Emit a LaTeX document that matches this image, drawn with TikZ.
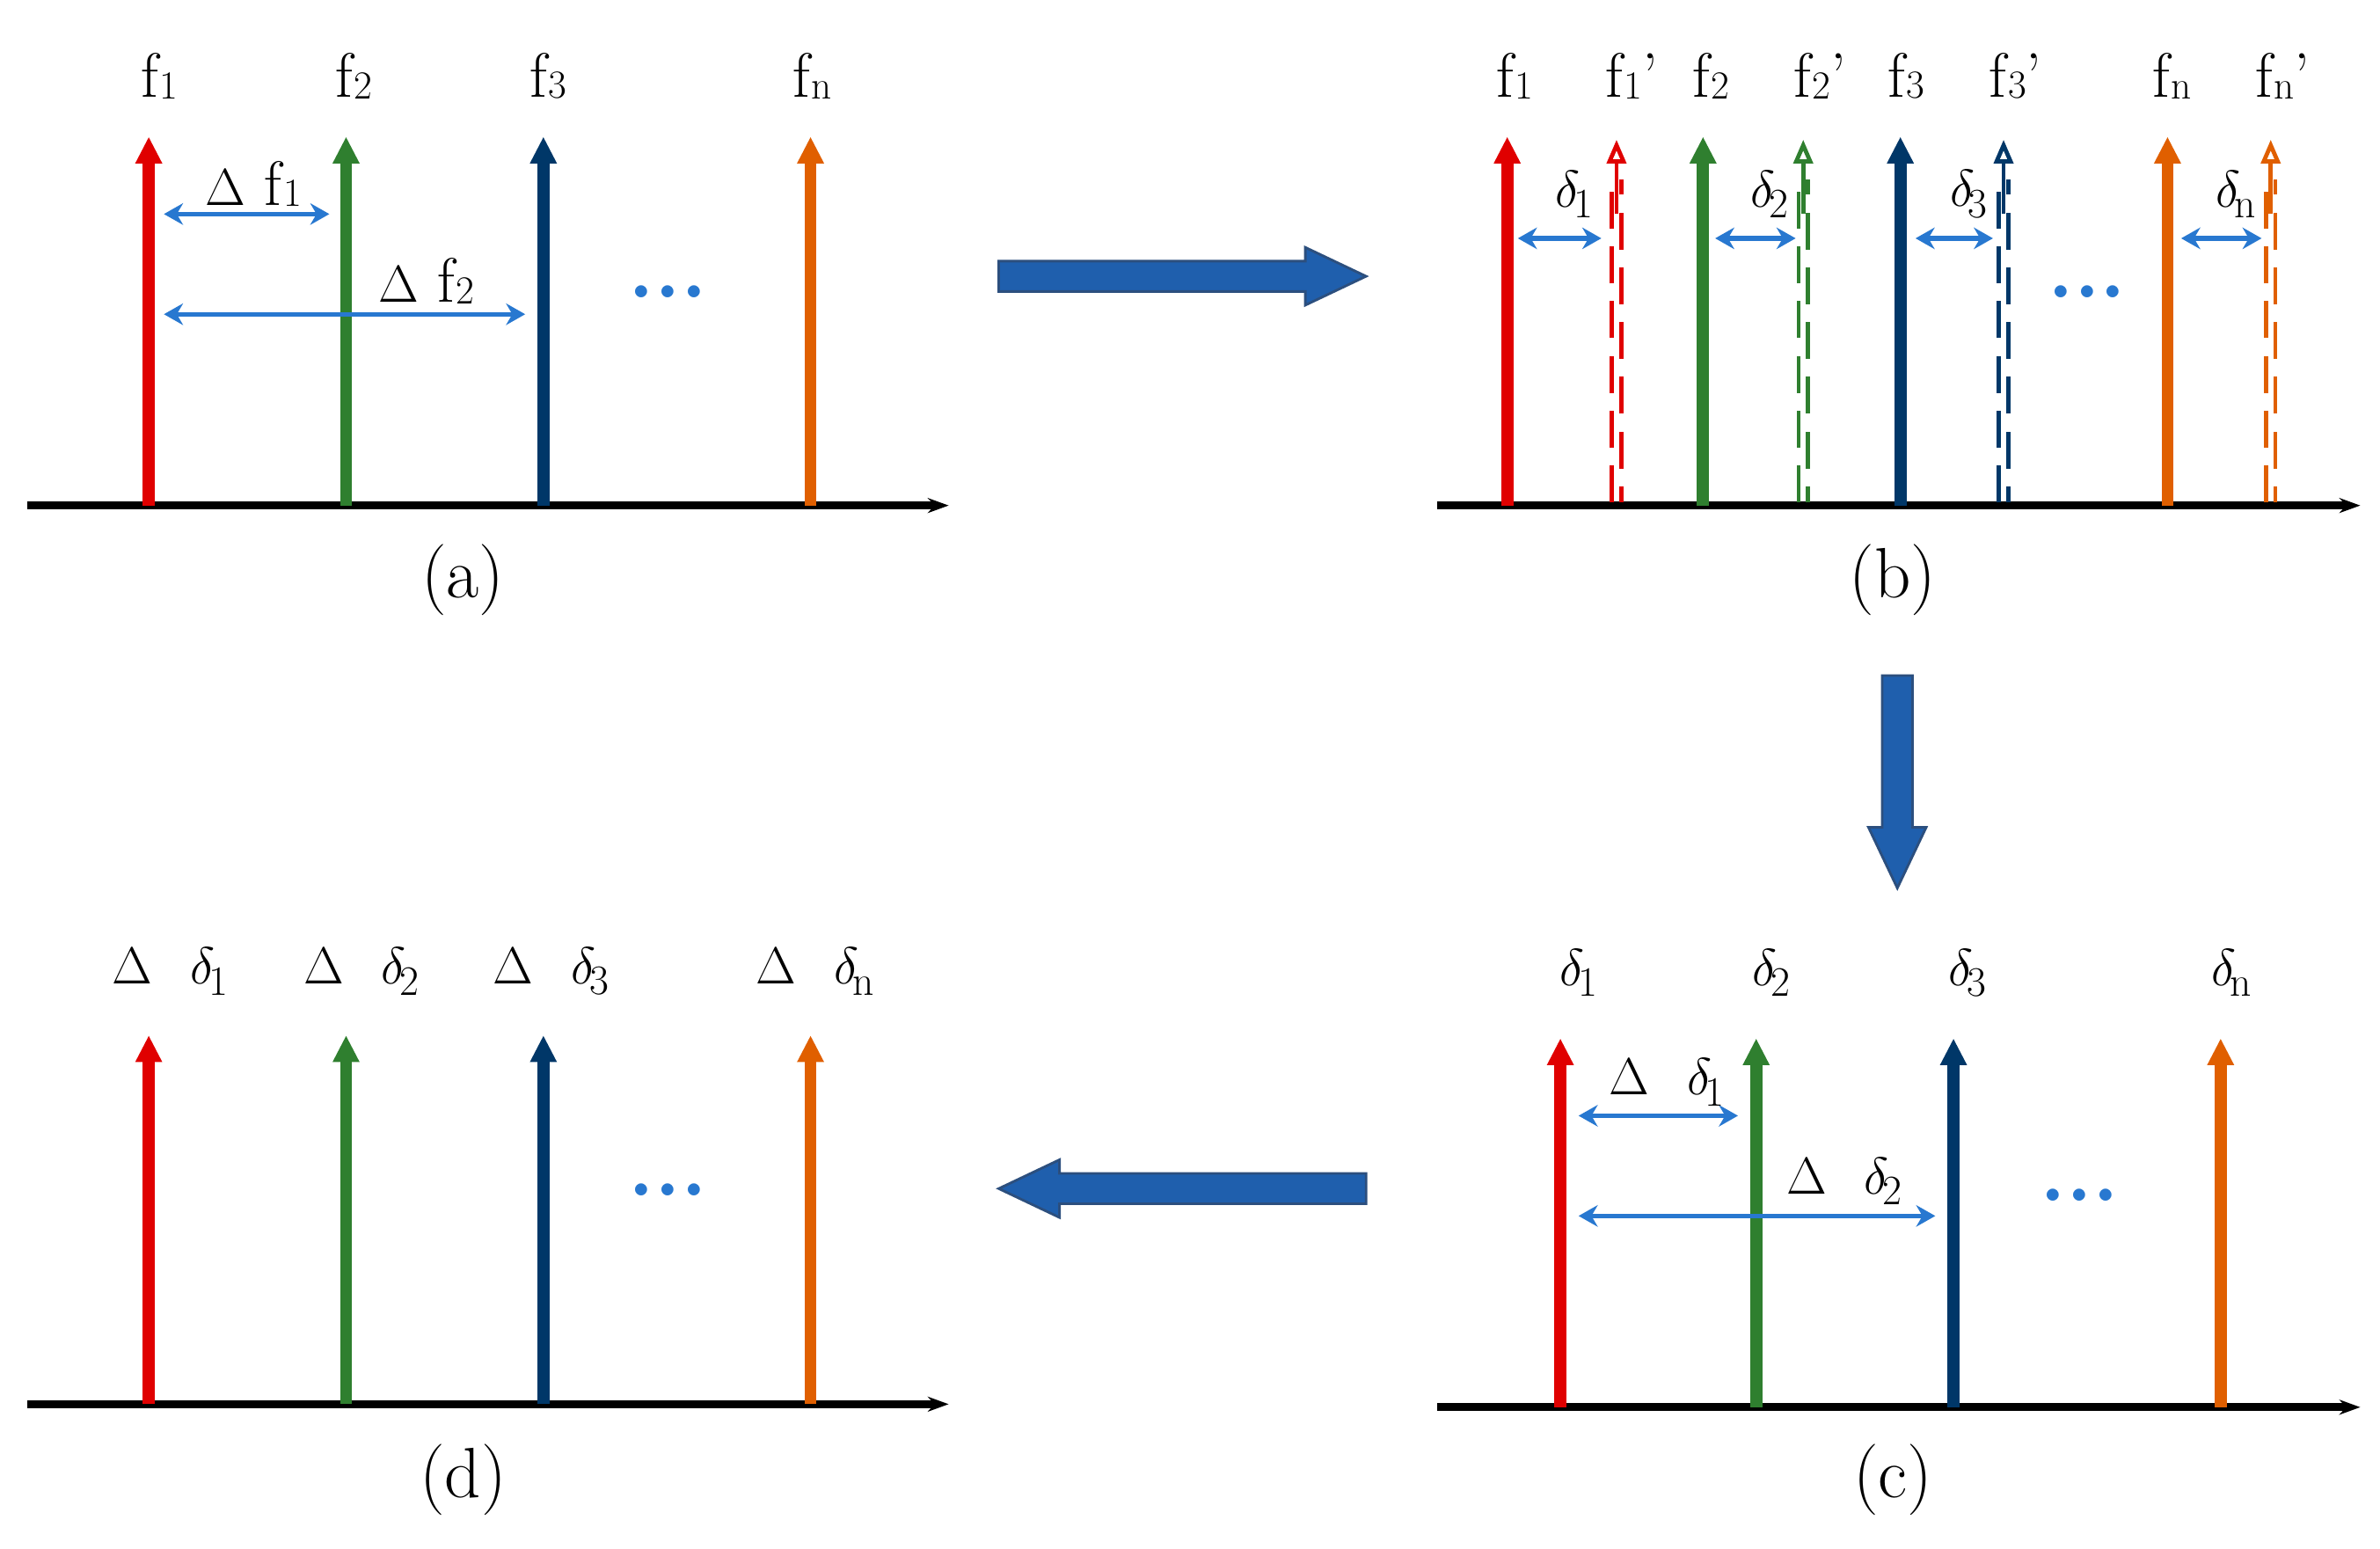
\documentclass[tikz,border=0pt]{standalone}
\usetikzlibrary{arrows.meta}
\definecolor{cred}{HTML}{E00000}
\definecolor{cgreen}{HTML}{2F7F2F}
\definecolor{cnavy}{HTML}{003768}
\definecolor{corange}{HTML}{E05F00}
\definecolor{cblue}{HTML}{2878D0}
\definecolor{bigfill}{HTML}{1F5FAD}
\definecolor{bigdraw}{HTML}{2C4F7E}
\newcommand{\sbs}[1]{\kern0.02em\raisebox{-0.05ex}{\fontsize{19}{19}\selectfont #1}}
\newcommand{\dl}[1]{$\delta$\kern-0.1em\raisebox{-0.4ex}{\fontsize{20}{20}\selectfont #1}}
\newcommand{\DD}{$\Delta$}
\begin{document}
\begin{tikzpicture}[x=0.0255cm,y=-0.0255cm,
  lab/.style={font=\fontsize{30}{30}\selectfont,inner sep=0pt},
  captxt/.style={font=\fontsize{34}{34}\selectfont,inner sep=0pt},
  axis/.style={line width=3.8pt,-{Stealth[length=0.35cm,width=0.25cm]}},
  spike/.style={line width=5.8pt,-{Triangle[length=0.45cm,width=0.42cm]}},
  dspike/.style={line width=2pt,dash pattern=on 0.62cm off 0.3cm},
  dhead/.style={line width=2pt,-{Triangle[open,length=0.4cm,width=0.32cm]}},
  gap/.style={cblue,line width=2.2pt,{Stealth[length=0.32cm,width=0.36cm]}-{Stealth[length=0.32cm,width=0.36cm]}},
  dots/.style={cblue,font=\fontsize{40}{40}\selectfont\bfseries,inner sep=0pt},
  big/.style={fill=bigfill,draw=bigdraw,line width=1.2pt}]
\useasboundingbox (0,0) rectangle (1568,1020);
% ---------- panel (a)
\coordinate (a0) at (18,333); \coordinate (a1) at (625,333);
\draw[axis] (a0) -- (a1);
\foreach \x/\c/\n in {98/cred/1,228/cgreen/2,358/cnavy/3,534/corange/4}{
  \coordinate (ab\n) at (\x,333); \coordinate (at\n) at (\x,90);
  \draw[spike,\c] (ab\n) -- (at\n);}
\node[lab] (fa1) at (105,50) {f\sbs{1}};
\node[lab] (fa2) at (233,50) {f\sbs{2}};
\node[lab] (fa3) at (361,50) {f\sbs{3}};
\node[lab] (fa4) at (535,50) {f\sbs{n}};
\coordinate (ga1) at (108,141); \coordinate (ga2) at (217,141);
\draw[gap] (ga1) -- (ga2);
\node[lab] (dfa1) at (167,121) {\DD\ f\sbs{1}};
\coordinate (ga3) at (108,207); \coordinate (ga4) at (346,207);
\draw[gap] (ga3) -- (ga4);
\node[lab] (dfa2) at (281,185) {\DD\ f\sbs{2}};
\node[dots] (dota) at (440,192) {...};
\node[captxt] (capa) at (305,382) {(a)};
% ---------- panel (b)
\coordinate (b0) at (947,333); \coordinate (b1) at (1555,333);
\draw[axis] (b0) -- (b1);
\foreach \x/\d/\c/\n in {993/1065/cred/1,1122/1188/cgreen/2,1252/1320/cnavy/3,1428/1496/corange/4}{
  \coordinate (bb\n) at (\x,333); \coordinate (bt\n) at (\x,90);
  \draw[spike,\c] (bb\n) -- (bt\n);
  \coordinate (db\n) at (\d,331); \coordinate (dt\n) at (\d,92);
  \draw[\c,dspike] ([xshift=-2.2]db\n) -- ([xshift=-2.2]dt\n|-0,118);
  \draw[\c,dspike,dash phase=0.35cm] ([xshift=2.2]db\n) -- ([xshift=2.2]dt\n|-0,118);
  \draw[\c,dhead] ([yshift=-8]dt\n|-0,130) -- (dt\n);}
\node[lab] (fb1) at (998,50) {f\sbs{1}};
\node[lab] (fb1p) at (1075,50) {f\sbs{1}'};
\node[lab] (fb2) at (1127,50) {f\sbs{2}};
\node[lab] (fb2p) at (1199,50) {f\sbs{2}'};
\node[lab] (fb3) at (1256,50) {f\sbs{3}};
\node[lab] (fb3p) at (1328,50) {f\sbs{3}'};
\node[lab] (fb4) at (1431,50) {f\sbs{n}};
\node[lab] (fb4p) at (1504,50) {f\sbs{n}'};
\foreach \a/\b/\l/\n in {1000/1055/1/1,1130/1183/2/2,1262/1313/3/3,1437/1490/n/4}{
  \coordinate (gl\n) at (\a,157); \coordinate (gr\n) at (\b,157);
  \draw[gap] (gl\n) -- (gr\n);}
\node[lab] (db1) at (1037,128) {\dl{1}};
\node[lab] (db2) at (1166,128) {\dl{2}};
\node[lab] (db3) at (1297,128) {\dl{3}};
\node[lab] (db4) at (1473,128) {\dl{n}};
\node[dots] (dotb) at (1375,192) {...};
\node[captxt] (capb) at (1247,382) {(b)};
% ---------- big arrows
\draw[big] (658,172) -- (860,172) -- (860,163) -- (900,182) -- (860,201) -- (860,192) -- (658,192) -- cycle;
\draw[big] (1240,445) -- (1260,445) -- (1260,545) -- (1269,545) -- (1250,585) -- (1231,545) -- (1240,545) -- cycle;
\draw[big] (900,773) -- (698,773) -- (698,764) -- (658,783) -- (698,802) -- (698,793) -- (900,793) -- cycle;
% ---------- panel (c)
\coordinate (c0) at (947,927); \coordinate (c1) at (1555,927);
\draw[axis] (c0) -- (c1);
\foreach \x/\c/\n in {1028/cred/1,1157/cgreen/2,1287/cnavy/3,1463/corange/4}{
  \coordinate (cb\n) at (\x,927); \coordinate (ct\n) at (\x,684);
  \draw[spike,\c] (cb\n) -- (ct\n);}
\node[lab] (dc1) at (1040,641) {\dl{1}};
\node[lab] (dc2) at (1167,641) {\dl{2}};
\node[lab] (dc3) at (1296,641) {\dl{3}};
\node[lab] (dc4) at (1470,641) {\dl{n}};
\coordinate (gc1) at (1040,735); \coordinate (gc2) at (1145,735);
\draw[gap] (gc1) -- (gc2);
\node[lab] (ddc1) at (1098,713) {\DD\ \ \dl{1}};
\coordinate (gc3) at (1040,801); \coordinate (gc4) at (1275,801);
\draw[gap] (gc3) -- (gc4);
\node[lab] (ddc2) at (1215,778) {\DD\ \ \dl{2}};
\node[dots] (dotc) at (1370,787) {...};
\node[captxt] (capc) at (1247,975) {(c)};
% ---------- panel (d)
\coordinate (d0) at (18,925); \coordinate (d1) at (625,925);
\draw[axis] (d0) -- (d1);
\foreach \x/\c/\n in {98/cred/1,228/cgreen/2,358/cnavy/3,534/corange/4}{
  \coordinate (dbb\n) at (\x,925); \coordinate (dtt\n) at (\x,682);
  \draw[spike,\c] (dbb\n) -- (dtt\n);}
\node[lab] (dd1) at (112,640) {\DD\ \ \dl{1}};
\node[lab] (dd2) at (238,640) {\DD\ \ \dl{2}};
\node[lab] (dd3) at (363,640) {\DD\ \ \dl{3}};
\node[lab] (dd4) at (537,640) {\DD\ \ \dl{n}};
\node[dots] (dotd) at (440,784) {...};
\node[captxt] (capd) at (305,975) {(d)};
\end{tikzpicture}
\end{document}
